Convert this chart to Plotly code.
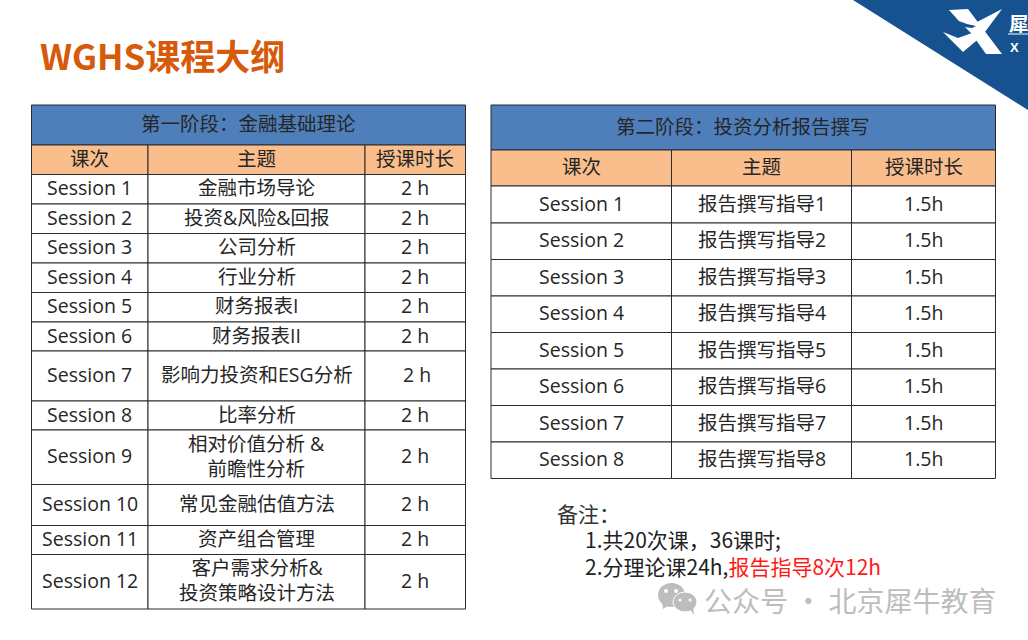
import plotly.graph_objects as go

# table text
stage1_title = "第一阶段：金融基础理论"
stage2_title = "第二阶段：投资分析报告撰写"
header = ["课次", "主题", "授课时长"]

stage1_sessions = ["Session 1", "Session 2", "Session 3", "Session 4", "Session 5", "Session 6",
                   "Session 7", "Session 8", "Session 9", "Session 10", "Session 11", "Session 12"]
stage1_topics = ["金融市场导论", "投资&风险&回报", "公司分析", "行业分析", "财务报表I", "财务报表II",
                 "影响力投资和ESG分析", "比率分析", "相对价值分析 &<br>前瞻性分析", "常见金融估值方法",
                 "资产组合管理", "客户需求分析&<br>投资策略设计方法"]
stage1_hours = ["2 h"] * 12

stage2_sessions = ["Session 1", "Session 2", "Session 3", "Session 4",
                   "Session 5", "Session 6", "Session 7", "Session 8"]
stage2_topics = ["报告撰写指导1", "报告撰写指导2", "报告撰写指导3", "报告撰写指导4",
                 "报告撰写指导5", "报告撰写指导6", "报告撰写指导7", "报告撰写指导8"]
stage2_hours = ["1.5h"] * 8

# layout of the two tables, in page pixels
left_cols = [31.5, 148, 365, 465.5]
left_rows = [105, 145, 174.5, 204, 233.5, 263, 292.5, 322, 351, 401, 430, 484.5, 525.5, 554.5, 609]
right_cols = [491, 671.5, 851.5, 995.5]
right_rows = [105, 150, 186, 223, 259.5, 296, 332.5, 369, 405.5, 442, 478.5]

FONT = "Open Sans, Noto Sans CJK SC"
CJK = "Noto Sans CJK SC"
BLUE = "#4E7FBA"
ORANGE = "#F9BE8C"
LINE = "#2B2B2B"
INK = "#262626"
WATERMARK = "#BDBDBD"
LOGO = "#15528F"

fig = go.Figure()
shapes = []
notes = []


def add_text(x, y, text, size=19.5, color=INK, anchor="center", family=FONT, weight=None, lift=0):
    notes.append(dict(x=x, y=y, text=text, showarrow=False, xanchor=anchor, yanchor="middle",
                      align="center" if anchor == "center" else "left", yshift=lift,
                      font=dict(family=family, size=size, color=color, weight=weight)))


def add_box(x0, y0, x1, y1, fill):
    shapes.append(dict(type="rect", x0=x0, y0=y0, x1=x1, y1=y1, fillcolor=fill,
                       line=dict(color=LINE, width=1), layer="below"))


def draw_table(cols, rows, title, sessions, topics, hours, lift):
    add_box(cols[0], rows[0], cols[3], rows[1], BLUE)
    add_text((cols[0] + cols[3]) / 2, (rows[0] + rows[1]) / 2, title, lift=lift)
    for c in range(3):
        add_box(cols[c], rows[1], cols[c + 1], rows[2], ORANGE)
        add_text((cols[c] + cols[c + 1]) / 2, (rows[1] + rows[2]) / 2, header[c], lift=lift)
    for r in range(len(sessions)):
        y0, y1 = rows[r + 2], rows[r + 3]
        row = [sessions[r], topics[r], hours[r]]
        for c in range(3):
            # the Session 7 hours cell sits a little off centre in the slide
            nudge = 2 if (c == 2 and sessions[r] == "Session 7" and len(sessions) == 12) else 0
            add_box(cols[c], y0, cols[c + 1], y1, "white")
            add_text((cols[c] + cols[c + 1]) / 2 + nudge, (y0 + y1) / 2, row[c], lift=lift)


draw_table(left_cols, left_rows, stage1_title, stage1_sessions, stage1_topics, stage1_hours, 1.5)
draw_table(right_cols, right_rows, stage2_title, stage2_sessions, stage2_topics, stage2_hours, 1.5)

# page title
add_text(38, 55, "WGHS课程大纲", 35, "#D65A0A", "left", family=CJK, weight="bold", lift=1)

# notes under the right table
add_text(555, 513, "备注：", 21, "#333333", "left", family=CJK)
add_text(583, 552, '1.共20次课，36课时;<br>2.分理论课24h,<span style="color:#FF1A1A">报告指导8次12h</span>',
         21, "#222222", "left", family=CJK)

# logo corner
shapes.append(dict(type="path", path="M 853 0 L 1028 110 L 1028 0 Z", fillcolor=LOGO, line_width=0))
shapes.append(dict(type="path", fillcolor="white", line_width=0,
                   path="M 949 10 L 968 9 L 1002 54 L 986 54 L 971 33 L 958 20 Z"))
shapes.append(dict(type="path", fillcolor="white", line_width=0,
                   path="M 1002 9 L 982 36 L 963 52 L 943 32 L 958 38 L 972 33 L 977 22 Z"))
shapes.append(dict(type="path", fillcolor=LOGO, line_width=0,
                   path="M 959 21 L 967 24 L 976 26 L 972 28 L 964 27 Z"))
shapes.append(dict(type="line", x0=1008, x1=1028, y0=34, y1=34, line=dict(color="white", width=1)))
add_text(1007, 22, "犀", 19.5, "white", "left", family=CJK, weight="bold")
add_text(1008, 47, "X", 13, "white", "left", family="Liberation Sans", weight="bold")

# watermark
shapes.append(dict(type="circle", x0=658, y0=583, x1=685, y1=607, fillcolor=WATERMARK, line_width=0))
shapes.append(dict(type="path", path="M 662 600 L 663 609 L 671 604 Z", fillcolor=WATERMARK, line_width=0))
shapes.append(dict(type="circle", x0=673, y0=592, x1=697, y1=612, fillcolor=WATERMARK,
                   line=dict(color="white", width=1)))
shapes.append(dict(type="path", path="M 689 608 L 694 615 L 693 606 Z", fillcolor=WATERMARK, line_width=0))
for ex, ey, er in [(666, 591, 2), (676, 591, 2), (680, 600, 1.5), (690, 600, 1.5)]:
    shapes.append(dict(type="circle", x0=ex - er, y0=ey - er, x1=ex + er, y1=ey + er,
                       fillcolor="white", line_width=0))
add_text(702, 601, "公众号 · 北京犀牛教育", 28, WATERMARK, "left", family=CJK, lift=1)

fig.update_layout(
    width=1028, height=640,
    margin=dict(l=0, r=0, t=0, b=0),
    paper_bgcolor="white", plot_bgcolor="white",
    showlegend=False,
    xaxis=dict(range=[0, 1028], visible=False, fixedrange=True),
    yaxis=dict(range=[640, 0], visible=False, fixedrange=True),
    shapes=shapes, annotations=notes,
)
fig.write_html("out.html", config=dict(displayModeBar=False),
               post_script="document.body.style.margin='0';")
